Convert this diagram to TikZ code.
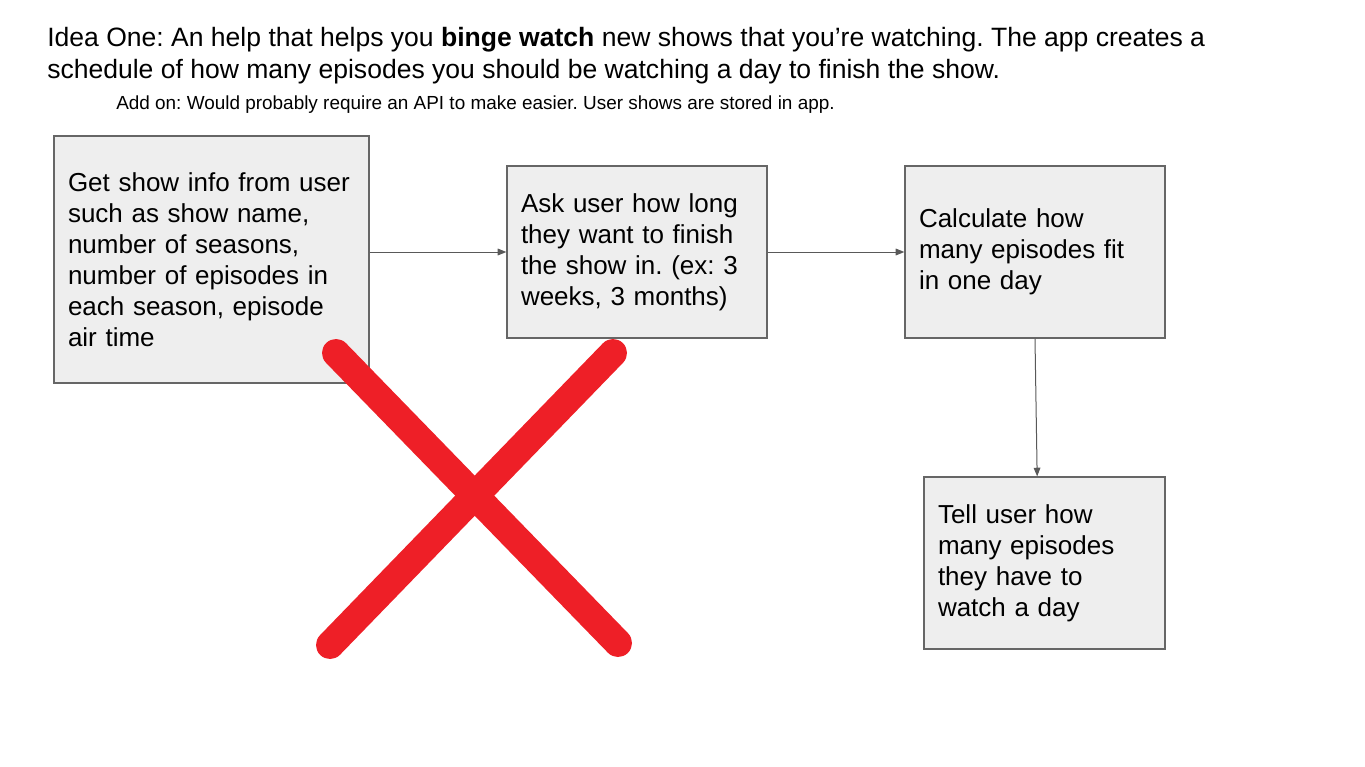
\documentclass[tikz,border=0pt]{standalone}
\usepackage{fontspec}
\setmainfont{Liberation Sans}
\usetikzlibrary{arrows.meta}
\definecolor{boxfill}{HTML}{EEEEEE}
\definecolor{boxline}{HTML}{666666}
\definecolor{arrowline}{HTML}{595959}
\definecolor{crossred}{RGB}{238,31,39}
\frenchspacing
\begin{document}
\begin{tikzpicture}[x=0.75pt, y=-0.75pt]
\tikzstyle{stepbox}=[shape=rectangle, draw=boxline, fill=boxfill, line width=0.9pt, inner xsep=10.5pt, align=left, font=\fontsize{19.5}{23.25}\selectfont]
\tikzstyle{flow}=[-{Triangle[length=6.5pt, width=5pt]}, draw=arrowline, line width=0.75pt]
\useasboundingbox (0,0) rectangle (1365,767);
%% heading
\node[anchor=base west, inner sep=0pt, font=\fontsize{19.9}{24}\selectfont] (ideaA) at (47,47) {Idea One: An help that helps you \textbf{binge watch} new shows that you’re watching. The app creates a};
\node[anchor=base west, inner sep=0pt, font=\fontsize{19.9}{24}\selectfont] (ideaB) at ([yshift=-24pt]ideaA.base west) {schedule of how many episodes you should be watching a day to finish the show.};
\node[anchor=base west, inner sep=0pt, font=\fontsize{14.2}{16}\selectfont] (addon) at (116,109) {Add on: Would probably require an API to make easier. User shows are stored in app.};
%% steps
\node[stepbox, minimum width=236.25pt, minimum height=185.25pt, text width=215.25pt] (info) at (211.5,259.5) {Get show info from user\\such as show name,\\number of seasons,\\number of episodes in\\each season, episode\\air time};
\node[stepbox, minimum width=195pt, minimum height=129pt, text width=174pt] (ask) at (637,252) {Ask user how long\\they want to finish\\the show in. (ex: 3\\weeks, 3 months)};
\node[stepbox, minimum width=195pt, minimum height=129pt, text width=174pt] (calc) at (1035,252) {Calculate how\\many episodes fit\\in one day};
\node[stepbox, minimum width=180.75pt, minimum height=129pt, text width=159.75pt] (tell) at (1044.5,563) {Tell user how\\many episodes\\they have to\\watch a day};
\draw [flow] (info.east |- ask.west) to (ask.west);
\draw [flow] (ask) to (calc);
\draw [flow] (calc.south) to ([xshift=-5.5pt]tell.north);
%% crossed out
\draw [crossred, line width=21pt, line cap=round] (336,353) -- (618,643);
\draw [crossred, line width=21pt, line cap=round] (613,353) -- (330,645);
\end{tikzpicture}
\end{document}
